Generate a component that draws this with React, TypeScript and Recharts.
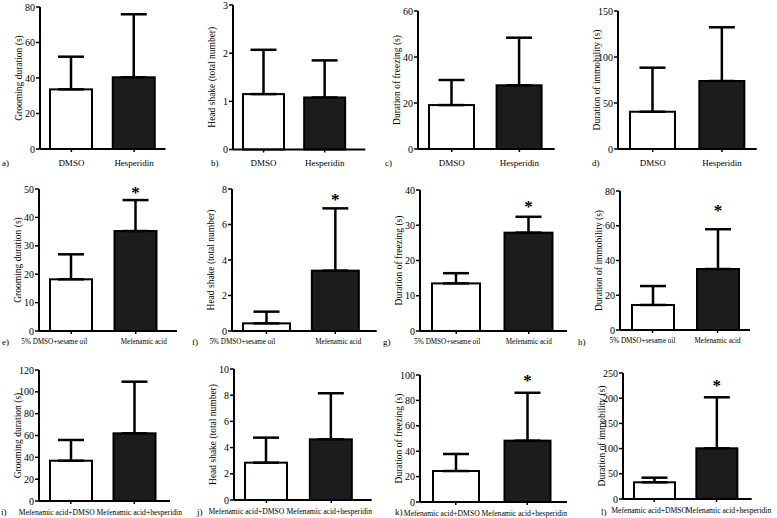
import React from "react";
import { BarChart, Bar, XAxis, YAxis, ErrorBar, Label } from "recharts";

const FONT = '"Liberation Serif", "Times New Roman", serif';

// group names per row
const groupsRow1 = ["DMSO", "Hesperidin"];
const groupsRow2 = ["5% DMSO+sesame oil", "Mefenamic acid"];
const groupsRow3 = ["Mefenamic acid+DMSO", "Mefenamic acid+hesperidin"];

const titleGroom = "Grooming duration (s)";
const titleHead = "Head shake (total number)";
const titleFreeze = "Duration of freezing (s)";
const titleImmob = "Duration of immobility (s)";

// means / SD
const meanA = [33.6, 40.4];
const sdA = [18.4, 35.5];
const meanB = [1.15, 1.08];
const sdB = [0.92, 0.77];
const meanC = [19.1, 27.7];
const sdC = [10.9, 20.7];
const meanD = [40.5, 73.9];
const sdD = [47.9, 58.4];
const meanE = [18.2, 35.2];
const sdE = [8.8, 10.9];
const meanF = [0.43, 3.4];
const sdF = [0.66, 3.51];
const meanG = [13.5, 27.9];
const sdG = [2.9, 4.5];
const meanH = [14.4, 35.1];
const sdH = [10.9, 22.9];
const meanI = [36.9, 62];
const sdI = [19, 47.3];
const meanJ = [2.85, 4.63];
const sdJ = [1.91, 3.52];
const meanK = [24.4, 48.3];
const sdK = [13.4, 37.7];
const meanL = [33.1, 100.6];
const sdL = [9.2, 101.2];

const noStars = [false, false];
const starSecond = [false, true];

const ticksA = [0, 20, 40, 60, 80];
const ticksB = [0, 1, 2, 3];
const ticksC = [0, 20, 40, 60];
const ticksD = [0, 50, 100, 150];
const ticksE = [0, 10, 20, 30, 40, 50];
const ticksF = [0, 2, 4, 6, 8];
const ticksG = [0, 10, 20, 30, 40];
const ticksH = [0, 20, 40, 60, 80];
const ticksI = [0, 20, 40, 60, 80, 100, 120];
const ticksJ = [0, 2, 4, 6, 8, 10];
const ticksK = [0, 20, 40, 60, 80, 100];
const ticksL = [0, 50, 100, 150, 200, 250];

const YW = 38;
const MT = 6;
const XH = 26;
const MB = 2;
const MR = 50;

type Layout = {
  x: number; top: number; base: number; end: number; padR: number; bw: number;
  font: number; squeeze: number; tickGap: number; starGap: number; shift: number[];
};

const row1 = { font: 9, squeeze: 1, tickGap: 10 };
const row2 = { font: 8.6, squeeze: 0.83, tickGap: 7 };
const row3 = { font: 9, squeeze: 0.85, tickGap: 7 };

function makeRows(groups: string[], mean: number[], sd: number[], stars: boolean[]) {
  return groups.map((name, i) => ({ name, mean: mean[i], err: [0, sd[i]], sd: sd[i], star: stars[i] }));
}

const panels = [
  { title: titleGroom, rows: makeRows(groupsRow1, meanA, sdA, noStars), ticks: ticksA,
    lay: { x: 39.5, top: 7, base: 149, end: 165, padR: 0, bw: 42, starGap: 14, shift: [0, 0], ...row1 } },
  { title: titleHead, rows: makeRows(groupsRow1, meanB, sdB, noStars), ticks: ticksB,
    lay: { x: 232.7, top: 4.5, base: 149, end: 365, padR: 10, bw: 41, starGap: 14, shift: [0, 0], ...row1 } },
  { title: titleFreeze, rows: makeRows(groupsRow1, meanC, sdC, noStars), ticks: ticksC,
    lay: { x: 418.3, top: 11, base: 149, end: 555, padR: 1.5, bw: 45, starGap: 14, shift: [0, 0], ...row1 } },
  { title: titleImmob, rows: makeRows(groupsRow1, meanD, sdD, noStars), ticks: ticksD,
    lay: { x: 618.3, top: 11, base: 149, end: 757, padR: 0, bw: 45, starGap: 14, shift: [0, 0], ...row1 } },
  { title: titleGroom, rows: makeRows(groupsRow2, meanE, sdE, starSecond), ticks: ticksE,
    lay: { x: 39, top: 189, base: 331, end: 177, padR: 9, bw: 42, starGap: 10, shift: [-17, 8], ...row2 } },
  { title: titleHead, rows: makeRows(groupsRow2, meanF, sdF, starSecond), ticks: ticksF,
    lay: { x: 232.3, top: 189, base: 331, end: 377, padR: 7, bw: 47, starGap: 11, shift: [-24, 3], ...row2 } },
  { title: titleFreeze, rows: makeRows(groupsRow2, meanG, sdG, starSecond), ticks: ticksG,
    lay: { x: 420, top: 190, base: 331, end: 567, padR: 2, bw: 48, starGap: 13, shift: [-9, 0], ...row2 } },
  { title: titleImmob, rows: makeRows(groupsRow2, meanH, sdH, starSecond), ticks: ticksH,
    lay: { x: 620, top: 191, base: 330, end: 750, padR: 0, bw: 42, starGap: 21, shift: [-10, 0], ...row2 } },
  { title: titleGroom, rows: makeRows(groupsRow3, meanI, sdI, noStars), ticks: ticksI,
    lay: { x: 39, top: 370, base: 501, end: 170, padR: 4, bw: 42, starGap: 14, shift: [-14, 5], ...row3 } },
  { title: titleHead, rows: makeRows(groupsRow3, meanJ, sdJ, noStars), ticks: ticksJ,
    lay: { x: 234.3, top: 369, base: 500, end: 372, padR: 8, bw: 42, starGap: 14, shift: [-20, -2], ...row3 } },
  { title: titleFreeze, rows: makeRows(groupsRow3, meanK, sdK, starSecond), ticks: ticksK,
    lay: { x: 420, top: 375, base: 502, end: 567, padR: 4, bw: 46, starGap: 15, shift: [-14, -3], ...row3 } },
  { title: titleImmob, rows: makeRows(groupsRow3, meanL, sdL, starSecond), ticks: ticksL,
    lay: { x: 623.3, top: 373, base: 499, end: 752, padR: 4, bw: 41, starGap: 14, shift: [-5, 12], ...row3 } },
];

const letters = [
  { t: "a)", x: 2, y: 163 }, { t: "b)", x: 211, y: 163 }, { t: "c)", x: 385, y: 163 }, { t: "d)", x: 592, y: 163 },
  { t: "e)", x: 2, y: 342 }, { t: "f)", x: 192, y: 342 }, { t: "g)", x: 383, y: 342 }, { t: "h)", x: 578, y: 342 },
  { t: "i)", x: 1, y: 512 }, { t: "j)", x: 197, y: 512 }, { t: "k)", x: 395, y: 512 }, { t: "l)", x: 601, y: 512 },
];

const makeShape = (starGap: number) => (props: any) => {
  const { x, y, width, height, payload, index } = props;
  const fill = index === 1 ? "#1c1c1c" : "#fff";
  const errTop = payload.mean > 0 ? y - (payload.sd * height) / payload.mean : y;
  const starY = errTop - starGap;
  return (
    <g>
      <rect x={x} y={y} width={width} height={height} fill={fill} stroke="#000" strokeWidth={2} />
      {payload.star && (
        <text x={x + width / 2} y={starY + 8} textAnchor="middle" fontSize={17} fontWeight="bold" fontFamily={FONT} fill="#000">
          *
        </text>
      )}
    </g>
  );
};

const makeTick = (size: number, squeeze: number, shift: number[]) => (props: any) => {
  const { x, y, payload, index } = props;
  const dx = shift[index] || 0;
  return (
    <g transform={`translate(${x + dx},${y})`}>
      <text transform={`scale(${squeeze},1)`} textAnchor="middle" dy="0.75em" fontSize={size} fontFamily={FONT} fill="#000">
        {payload.value}
      </text>
    </g>
  );
};

function Panel({ title, rows, ticks, lay }: { title: string; rows: any[]; ticks: number[]; lay: Layout }) {
  const width = YW + (lay.end - lay.x) + MR;
  const height = MT + (lay.base - lay.top) + XH + MB;
  return (
    <div style={{ position: "absolute", left: lay.x - YW, top: lay.top - MT, width, height }}>
      <BarChart width={width} height={height} data={rows} margin={{ top: MT, right: MR, bottom: MB, left: 0 }} barSize={lay.bw}>
        <XAxis
          dataKey="name"
          interval={0}
          height={XH}
          padding={{ left: 0, right: lay.padR }}
          axisLine={{ stroke: "#000", strokeWidth: 2 }}
          tickLine={{ stroke: "#000", strokeWidth: 1.5 }}
          tickSize={3}
          tickMargin={lay.tickGap - 3}
          tick={makeTick(lay.font, lay.squeeze, lay.shift)}
        />
        <YAxis
          width={YW}
          domain={[0, ticks[ticks.length - 1]]}
          ticks={ticks}
          interval={0}
          axisLine={{ stroke: "#000", strokeWidth: 2 }}
          tickLine={{ stroke: "#000", strokeWidth: 1.5 }}
          tickSize={4}
          tickMargin={1}
          tick={{ fontSize: 10, fontFamily: FONT, fill: "#000" }}
        >
          <Label
            content={(p: any) => {
              const vb = p.viewBox || {};
              const cx = vb.x + 17;
              const cy = vb.y + vb.height / 2;
              return (
                <text x={cx} y={cy} transform={`rotate(-90 ${cx} ${cy})`} textAnchor="middle" dominantBaseline="central" fontSize={9.5} fontFamily={FONT} fill="#000">
                  {title}
                </text>
              );
            }}
          />
        </YAxis>
        <Bar dataKey="mean" isAnimationActive={false} shape={makeShape(lay.starGap)}>
          <ErrorBar dataKey="err" direction="y" width={13} strokeWidth={2.5} stroke="#000" />
        </Bar>
      </BarChart>
    </div>
  );
}

export default function App() {
  return (
    <div style={{ position: "absolute", left: 0, top: 0, width: 777, height: 518, overflow: "hidden", background: "#fff" }}>
      {panels.map((p, i) => (
        <Panel key={i} title={p.title} rows={p.rows} ticks={p.ticks} lay={p.lay as Layout} />
      ))}
      <svg width={777} height={518} style={{ position: "absolute", left: 0, top: 0, pointerEvents: "none" }}>
        {letters.map((l) => (
          <text key={l.t} x={l.x} y={l.y} dominantBaseline="central" fontSize={9} fontFamily={FONT} fill="#000">
            {l.t}
          </text>
        ))}
      </svg>
    </div>
  );
}
